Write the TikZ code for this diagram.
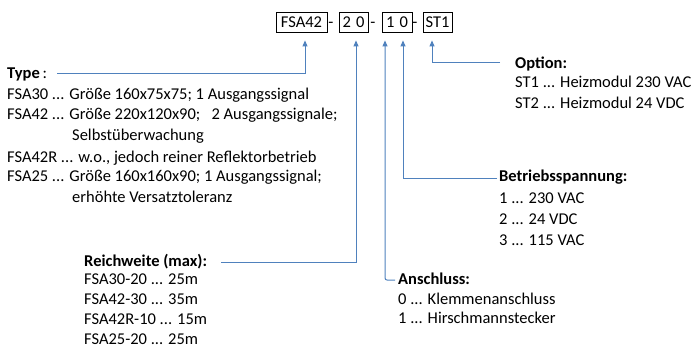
\documentclass[tikz,border=0pt]{standalone}
\usepackage{fontspec}
\setmainfont{Carlito}
\usetikzlibrary{arrows.meta}
\definecolor{conn}{RGB}{79,129,189}
\tikzset{
  x=1pt, y=-1pt,
  txt/.style={anchor=base west, inner sep=0pt, font=\fontsize{16.5}{19}\selectfont},
  codebox/.style={draw=black, line width=0.8pt, minimum height=20pt, inner sep=0pt, font=\fontsize{16.5}{19}\selectfont},
  dashtxt/.style={anchor=base, inner sep=0pt, font=\fontsize{16.5}{19}\selectfont},
  link/.style={draw=conn, line width=1pt, -{Triangle[length=6pt,width=5pt]}},
}
\begin{document}
\begin{tikzpicture}
\useasboundingbox (0,0) rectangle (696,350);
% code boxes
\node[codebox, minimum width=51pt] (b1) at (301.5,22) {FSA42};
\node[dashtxt] (d1) at (331,27.5) {-};
\node[codebox, minimum width=29pt] (b2) at (353.5,22) {2\hspace{5pt}0};
\node[dashtxt] (d2) at (373,27.5) {-};
\node[codebox, minimum width=30pt] (b3) at (397,22) {1\hspace{5pt}0};
\node[dashtxt] (d3) at (415,27.5) {-};
\node[codebox, minimum width=29pt] (b4) at (437.5,22) {ST1};

% Type block
\node[txt] (th) at (7,79) {\textbf{Type}\,:};
\node[txt] (t1) at (7,100) {FSA30 ... Größe 160x75x75;\ 1 Ausgangssignal};
\node[txt] (t2) at (7,120) {FSA42 ... Größe 220x120x90;\ \ \ 2 Ausgangssignale;};
\node[txt] (t3) at (72,141) {Selbstüberwachung};
\node[txt] (t4) at (7,162) {FSA42R ... w.o., jedoch reiner Reflektorbetrieb};
\node[txt] (t5) at (7,182) {FSA25 ... Größe 160x160x90;\ 1 Ausgangssignal;};
\node[txt] (t6) at (72,202) {erhöhte Versatztoleranz};

% Reichweite block
\node[txt] (rh) at (84,266) {\textbf{Reichweite (max):}};
\node[txt] (r1) at (84,284) {FSA30-20 ... 25m};
\node[txt] (r2) at (84,304) {FSA42-30 ... 35m};
\node[txt] (r3) at (84,324) {FSA42R-10 ... 15m};
\node[txt] (r4) at (84,344) {FSA25-20 ... 25m};

% Anschluss block
\node[txt] (ah) at (398,284) {\textbf{Anschluss:}};
\node[txt] (a1) at (398,304) {0 ... Klemmenanschluss};
\node[txt] (a2) at (398,323) {1 ... Hirschmannstecker};

% Betriebsspannung block
\node[txt] (bh) at (499,182) {\textbf{Betriebsspannung:}};
\node[txt] (bs1) at (499,203) {1 ... 230 VAC};
\node[txt] (bs2) at (499,224) {2 ... 24 VDC};
\node[txt] (bs3) at (499,245) {3 ... 115 VAC};

% Option block
\node[txt] (oh) at (515,69) {\textbf{Option:}};
\node[txt] (o1) at (515,88) {ST1 ... Heizmodul 230 VAC};
\node[txt] (o2) at (515,109) {ST2 ... Heizmodul 24 VDC};

% connector free ends
\coordinate (ct) at (57,74);
\coordinate (cr) at (221,262);
\coordinate (ca) at (395,280);
\coordinate (cb) at (497,178);
\coordinate (co) at (500,63);

% connectors
\draw[link] (ct) -- (305,74) -- ([yshift=-8pt]b1.south -| 305,0);
\draw[link] (cr) -- (356,262) -- ([yshift=-8pt]b2.south -| 356,0);
\draw[link, rounded corners=2pt] (ca) -- (385,280) -- ([yshift=-8pt]b3.south -| 385,0);
\draw[link] (cb) -- (403,178) -- ([yshift=-8pt]b3.south -| 403,0);
\draw[link] (co) -- (432,63) -- ([yshift=-8pt]b4.south -| 432,0);
\end{tikzpicture}
\end{document}
